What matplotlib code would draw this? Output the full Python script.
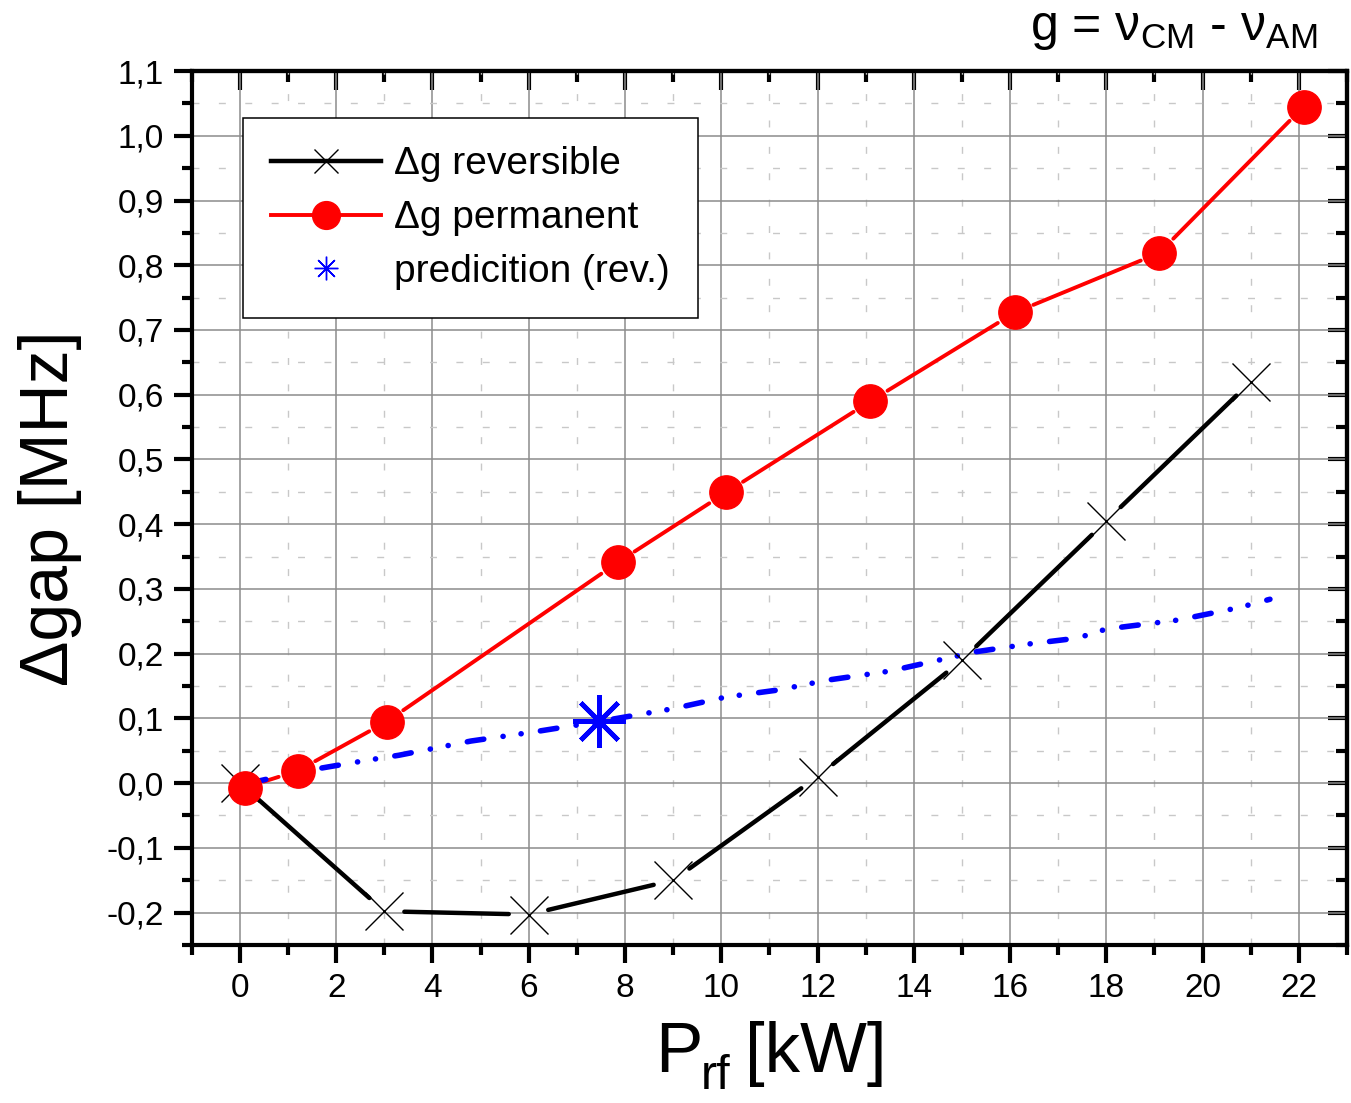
import numpy as np
import matplotlib
matplotlib.use("Agg")
import matplotlib.pyplot as plt
from matplotlib.lines import Line2D
from matplotlib.ticker import MultipleLocator, FuncFormatter

plt.rcParams['font.family'] = ['Liberation Sans', 'DejaVu Sans']
plt.rcParams['mathtext.fontset'] = 'custom'
plt.rcParams['mathtext.rm'] = 'Liberation Sans'
plt.rcParams['mathtext.it'] = 'Liberation Sans:italic'
plt.rcParams['lines.scale_dashes'] = False

# data
rev_p = [0, 3, 6, 9, 12, 15, 18, 21]
rev_g = [0.0, -0.198, -0.203, -0.150, 0.010, 0.190, 0.405, 0.620]

perm_p = [0.1, 1.2, 3.05, 7.85, 10.1, 13.1, 16.1, 19.1, 22.1]
perm_g = [-0.007, 0.019, 0.095, 0.341, 0.449, 0.590, 0.727, 0.819, 1.045]

pred_p = [0.2, 1.2, 2.7, 3.3, 4.8, 6.1, 7.45, 9.0, 10.1, 11.2, 12.2, 13.5,
          14.7, 15.3, 16.4, 17.4, 18.0, 19.5, 20.75, 21.4]
pred_g = [0.0, 0.017, 0.036, 0.043, 0.065, 0.079, 0.095, 0.115, 0.133, 0.144,
          0.159, 0.173, 0.193, 0.203, 0.215, 0.224, 0.238, 0.252, 0.271, 0.284]

star_p = [7.45]
star_g = [0.096]

fig = plt.figure(figsize=(13.51, 11.03), dpi=100)
ax = fig.add_axes([0.142, 0.1433, 0.855, 0.7923])
ax.set_xlim(-1, 23)
ax.set_ylim(-0.25, 1.1)


def gapped_line(ax, xs, ys, gap_px, **kw):
    # Origin style: line stops short of every marker
    pts = ax.transData.transform(np.column_stack([xs, ys]))
    for i in range(len(xs) - 1):
        length = np.hypot(*(pts[i + 1] - pts[i]))
        f = gap_px / length
        dx = xs[i + 1] - xs[i]
        dy = ys[i + 1] - ys[i]
        ax.plot([xs[i] + f * dx, xs[i + 1] - f * dx],
                [ys[i] + f * dy, ys[i + 1] - f * dy],
                solid_capstyle='round', zorder=3, **kw)


# grid
ax.set_axisbelow(True)
ax.xaxis.set_major_locator(MultipleLocator(2))
ax.xaxis.set_minor_locator(MultipleLocator(1))
ax.yaxis.set_major_locator(MultipleLocator(0.1))
ax.yaxis.set_minor_locator(MultipleLocator(0.05))
ax.grid(which='major', color='#8c8c8c', lw=1.1)
ax.grid(which='minor', color='#c8c8c8', lw=1.0, linestyle=(0, (5, 14)))

# prediction line
ax.plot(pred_p, pred_g, color='#0000ff', lw=4.0, dash_capstyle='round',
        dashes=(12, 14, 0.1, 13, 0.1, 14), zorder=4)

gapped_line(ax, rev_p, rev_g, 20, color='black', lw=3.2)
ax.plot(rev_p, rev_g, linestyle='none', marker='x', ms=27, mew=1.0,
        color='black', zorder=5)

gapped_line(ax, perm_p, perm_g, 20, color='#ff0000', lw=2.8)
ax.plot(perm_p, perm_g, linestyle='none', marker='o', ms=24,
        color='#ff0000', mec='#ff0000', zorder=6)

ax.plot(star_p, star_g, linestyle='none', marker=(8, 2, 0), ms=38, mew=3.4,
        color='#0000ff', zorder=7)

# ticks
fmt = FuncFormatter(lambda v, pos: f"{round(v, 1) + 0.0:.1f}".replace('.', ','))
ax.yaxis.set_major_formatter(fmt)
ax.tick_params(which='major', direction='out', length=13, width=3,
               labelsize=24, pad=7)
ax.tick_params(which='minor', direction='out', length=7, width=3)
for s in ax.spines.values():
    s.set_linewidth(3)

top = ax.secondary_xaxis('top')
top.xaxis.set_major_locator(MultipleLocator(2))
top.xaxis.set_minor_locator(MultipleLocator(1))
top.tick_params(which='major', direction='in', length=14, width=3, labeltop=False)
top.tick_params(which='minor', direction='in', length=8, width=3)
top.spines['top'].set_linewidth(3)

right = ax.secondary_yaxis('right')
right.yaxis.set_major_locator(MultipleLocator(0.1))
right.yaxis.set_minor_locator(MultipleLocator(0.05))
right.tick_params(which='major', direction='in', length=14, width=3, labelright=False)
right.tick_params(which='minor', direction='in', length=8, width=3)
right.spines['right'].set_linewidth(3)

# x label built in pieces so the subscript sits low as in the original
fig.text(655 / 1351, 1 - 1072 / 1103, 'P', fontsize=51, ha='left', va='baseline')
fig.text(701 / 1351, 1 - 1089 / 1103, 'rf', fontsize=35, ha='left', va='baseline')
fig.text(745 / 1351, 1 - 1072 / 1103, '[kW]', fontsize=51, ha='left', va='baseline')

ax.set_ylabel('Δgap [MHz]', fontsize=49, labelpad=18)

fig.text(0.9756, 0.9640, r'g = ν$_{\rm CM}$ - ν$_{\rm AM}$', fontsize=36,
         ha='right', va='baseline')

handles = [
    Line2D([], [], color='black', lw=3.2, marker='x', ms=17, mew=1.0),
    Line2D([], [], color='#ff0000', lw=2.8, marker='o', ms=20),
    Line2D([], [], color='#0000ff', linestyle='none', marker=(8, 2, 0),
           ms=17, mew=1.0),
]
labels = ['Δg reversible', 'Δg permanent', 'predicition (rev.)']
leg = ax.legend(handles, labels, loc='upper left',
                bbox_to_anchor=(0.0442, 0.946), fontsize=28, frameon=True,
                fancybox=False, framealpha=1, edgecolor='black',
                handlelength=2.83, handletextpad=0.33, labelspacing=0.46,
                borderpad=0.72, borderaxespad=0)
leg.get_frame().set_linewidth(1.1)

fig.savefig('out.png', dpi=100)
